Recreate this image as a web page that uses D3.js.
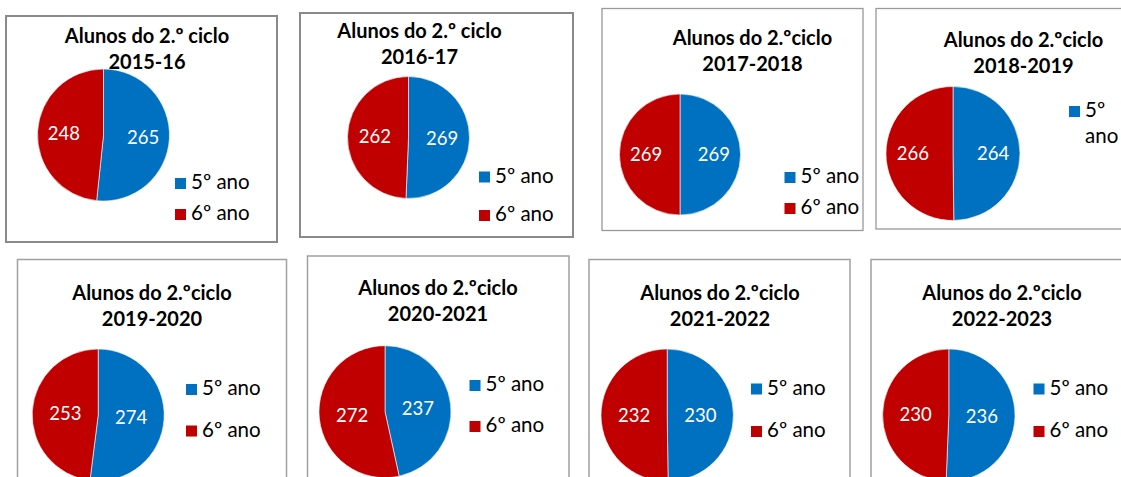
<!DOCTYPE html>
<html>
<head>
<meta charset="utf-8">
<script src="https://cdn.jsdelivr.net/npm/d3@7"></script>
<style>
  html, body { margin: 0; padding: 0; background: #fff; overflow: hidden; }
  svg { display: block; font-family: Lato, "Noto Sans", sans-serif; }
</style>
</head>
<body>
<svg width="1121" height="477"></svg>
<script>
// data
var titles = ['Alunos do 2.º ciclo', 'Alunos do 2.º ciclo', 'Alunos do 2.ºciclo', 'Alunos do 2.ºciclo',
              'Alunos do 2.ºciclo', 'Alunos do 2.ºciclo', 'Alunos do 2.ºciclo', 'Alunos do 2.ºciclo'];
var years = ['2015-16', '2016-17', '2017-2018', '2018-2019', '2019-2020', '2020-2021', '2021-2022', '2022-2023'];
var series = ['5º ano', '6º ano'];
var ano5 = [265, 269, 269, 264, 274, 237, 230, 236];
var ano6 = [248, 262, 269, 266, 253, 272, 232, 230];

var colors = d3.scaleOrdinal().domain(series).range(['#0070C0', '#C00000']);

// where each little chart sits in the collage
var layout = [
  {box: [6, 16, 271, 226], bw: 2, bc: '#8a8a8a', tx: 147, ty: 43, cx: 103.5, cy: 135, r: 66, lr: 0.6, lx: 175, ly: 178, lgap: 31},
  {box: [300, 13, 273, 224], bw: 2, bc: '#8a8a8a', tx: 419.5, ty: 38, cx: 408.5, cy: 137.5, r: 61, lr: 0.55, lx: 479, ly: 171.5, lgap: 38.5},
  {box: [602, 8.5, 261, 222], bw: 1.3, bc: '#999', tx: 752.5, ty: 45, cx: 680, cy: 154.5, r: 60.5, lr: 0.56, lx: 784.5, ly: 172, lgap: 31},
  {box: [876, 8.5, 260, 220.5], bw: 1.3, bc: '#999', tx: 1023.5, ty: 46.5, cx: 953, cy: 153.5, r: 67, lr: 0.6, lx: 1069, ly: 106, lgap: 31, wrap: true},
  {box: [17.5, 259.5, 269, 230], bw: 1.5, bc: '#a0a0a0', tx: 152, ty: 300, cx: 98.2, cy: 415, r: 66, lr: 0.5, lx: 186, ly: 384, lgap: 41.5},
  {box: [307.5, 256, 261.5, 230], bw: 1.5, bc: '#a0a0a0', tx: 438, ty: 295, cx: 385, cy: 411.7, r: 66, lr: 0.5, lx: 469.5, ly: 380, lgap: 41},
  {box: [589, 259.5, 261, 230], bw: 1.5, bc: '#a0a0a0', tx: 720, ty: 300, cx: 667.2, cy: 415.2, r: 66.2, lr: 0.5, lx: 751, ly: 383.5, lgap: 42.5},
  {box: [871, 259.5, 262, 230], bw: 1.5, bc: '#a0a0a0', tx: 1002, ty: 300, cx: 948.8, cy: 415.2, r: 66.2, lr: 0.5, lx: 1033.5, ly: 383.5, lgap: 42.5}
];

var svg = d3.select('svg');

var pie = d3.pie().sort(null).value(function(d) { return d.value; });

years.forEach(function(year, i) {
  var L = layout[i];
  var g = svg.append('g');
  var rows = series.map(function(s, k) {
    return {name: s, value: k == 0 ? ano5[i] : ano6[i]};
  });

  g.append('rect')
    .attr('x', L.box[0]).attr('y', L.box[1])
    .attr('width', L.box[2]).attr('height', L.box[3])
    .attr('fill', '#fff')
    .attr('stroke', L.bc).attr('stroke-width', L.bw);

  var title = g.append('text')
    .attr('x', L.tx).attr('y', L.ty)
    .attr('text-anchor', 'middle')
    .attr('font-weight', 'bold').attr('font-size', 20)
    .attr('fill', '#000');
  title.append('tspan').attr('x', L.tx).text(titles[i]);
  title.append('tspan').attr('x', L.tx).attr('dy', 26).text(year);

  var arc = d3.arc().innerRadius(0).outerRadius(L.r);
  var labelArc = d3.arc().innerRadius(L.r * L.lr).outerRadius(L.r * L.lr);

  var pg = g.append('g').attr('transform', 'translate(' + L.cx + ',' + L.cy + ')');
  var slices = pie(rows);

  pg.selectAll('path').data(slices).enter()
    .append('path')
    .attr('d', arc)
    .attr('fill', function(d) { return colors(d.data.name); })
    .attr('stroke', '#fff').attr('stroke-width', 0.6);

  pg.selectAll('text').data(slices).enter()
    .append('text')
    .attr('transform', function(d) {
      var c = labelArc.centroid(d);
      return 'translate(' + c[0] + ',' + c[1] + ')';
    })
    .attr('text-anchor', 'middle')
    .attr('dy', '0.36em')
    .attr('font-size', 18.5)
    .attr('fill', '#fff')
    .text(function(d) { return d.data.value; });

  // legend (the 2018-2019 one only has room for its first entry, wrapped)
  var items = L.wrap ? rows.slice(0, 1) : rows;
  var lg = g.selectAll('.leg').data(items).enter()
    .append('g')
    .attr('transform', function(d, k) { return 'translate(' + L.lx + ',' + (L.ly + k * L.lgap) + ')'; });

  lg.append('rect')
    .attr('width', 11).attr('height', 11)
    .attr('fill', function(d) { return colors(d.name); });

  lg.each(function(d) {
    var t = d3.select(this).append('text')
      .attr('x', 16).attr('y', 11)
      .attr('font-size', 20.5)
      .attr('fill', '#000');
    if (L.wrap) {
      var parts = d.name.split(' ');
      t.append('tspan').attr('x', 16).text(parts[0]);
      t.append('tspan').attr('x', 16).attr('dy', 26).text(parts[1]);
    } else {
      t.text(d.name);
    }
  });
});
</script>
</body>
</html>
